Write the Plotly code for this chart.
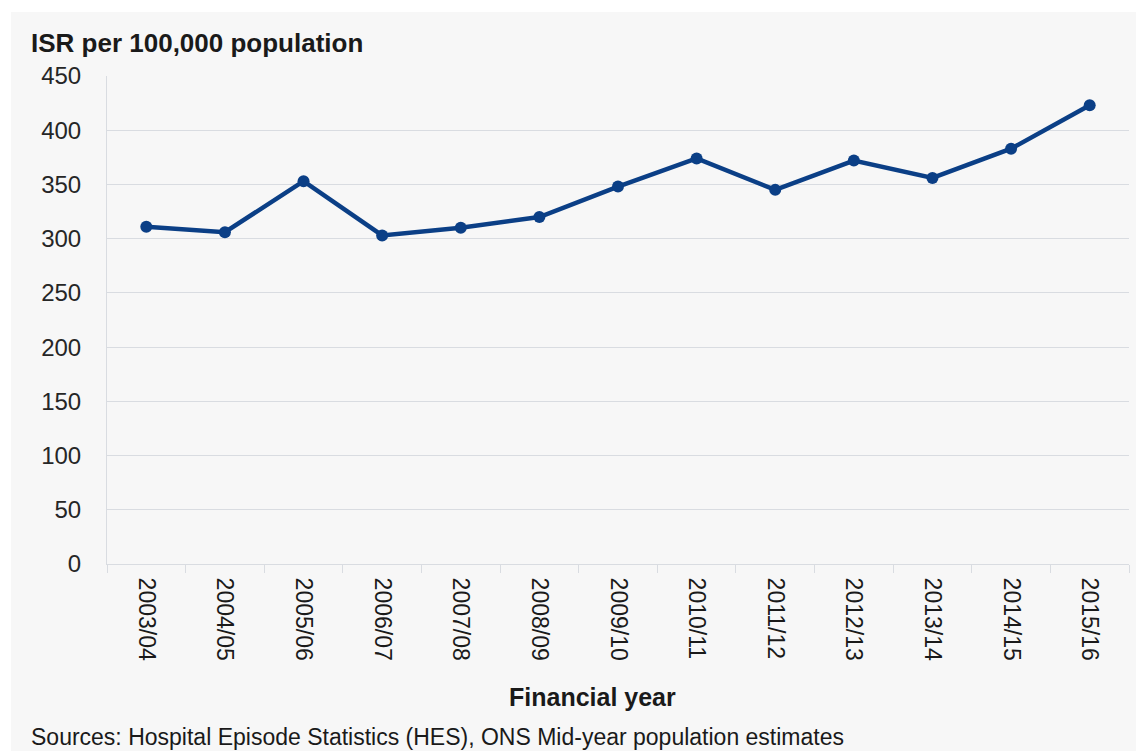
import plotly.graph_objects as go

# Financial years and indirectly standardised rates
years = ["2003/04", "2004/05", "2005/06", "2006/07", "2007/08", "2008/09", "2009/10",
         "2010/11", "2011/12", "2012/13", "2013/14", "2014/15", "2015/16"]
isr = [311, 306, 353, 303, 310, 320, 348, 374, 345, 372, 356, 383, 423]
y_ticks = [0, 50, 100, 150, 200, 250, 300, 350, 400, 450]

W, H = 1136, 751
L, R, T, B = 107, 7, 76, 187
plot_w = W - L - R
plot_h = H - T - B


def px_x(px):
    return (px - L) / plot_w


def px_y(py):
    return (H - B - py) / plot_h


FONT = "Liberation Sans, Arial, sans-serif"
LINE = "#0b3f86"
GRID = "#d9dce1"

fig = go.Figure()
fig.add_trace(go.Scatter(
    x=years, y=isr, mode="lines+markers",
    line=dict(color=LINE, width=4.5),
    marker=dict(color=LINE, size=12),
    showlegend=False,
    hoverinfo="x+y",
))

fig.update_layout(
    width=W, height=H,
    margin=dict(l=L, r=R, t=T, b=B),
    paper_bgcolor="white",
    plot_bgcolor="rgba(0,0,0,0)",
    font=dict(family=FONT, size=22, color="#262626"),
    xaxis=dict(
        type="category",
        range=[-0.5, len(years) - 0.5],
        tickangle=90,
        tickfont=dict(size=23, color="#1a1a1a"),
        ticks="outside", ticklen=8, tickcolor=GRID, tickwidth=1,
        tickson="boundaries",
        showline=True, linecolor=GRID, linewidth=1,
        showgrid=False,
        ticklabelstandoff=8,
    ),
    yaxis=dict(
        range=[0, 450],
        tickvals=y_ticks,
        tickfont=dict(size=24, color="#262626"),
        showgrid=True, gridcolor=GRID, gridwidth=1,
        showline=True, linecolor=GRID, linewidth=1,
        zeroline=False,
        ticks="", ticklabelstandoff=20,
    ),
    shapes=[dict(
        type="rect", xref="paper", yref="paper", layer="below",
        x0=px_x(11), x1=px_x(W + 5), y0=px_y(H + 5), y1=px_y(12),
        fillcolor="#f7f7f7", line=dict(width=0),
    )],
    annotations=[
        dict(text="<b>ISR per 100,000 population</b>", xref="paper", yref="paper",
             x=px_x(29), y=px_y(43), xanchor="left", yanchor="middle",
             showarrow=False, font=dict(size=26, color="#1a1a1a")),
        dict(text="<b>Financial year</b>", xref="paper", yref="paper",
             x=px_x(592), y=px_y(697), xanchor="center", yanchor="middle",
             showarrow=False, font=dict(size=25, color="#1a1a1a")),
        dict(text="Sources: Hospital Episode Statistics (HES), ONS Mid-year population estimates",
             xref="paper", yref="paper",
             x=px_x(29), y=px_y(737), xanchor="left", yanchor="middle",
             showarrow=False, font=dict(size=23, color="#1a1a1a")),
    ],
)

fig.write_html("out.html")
